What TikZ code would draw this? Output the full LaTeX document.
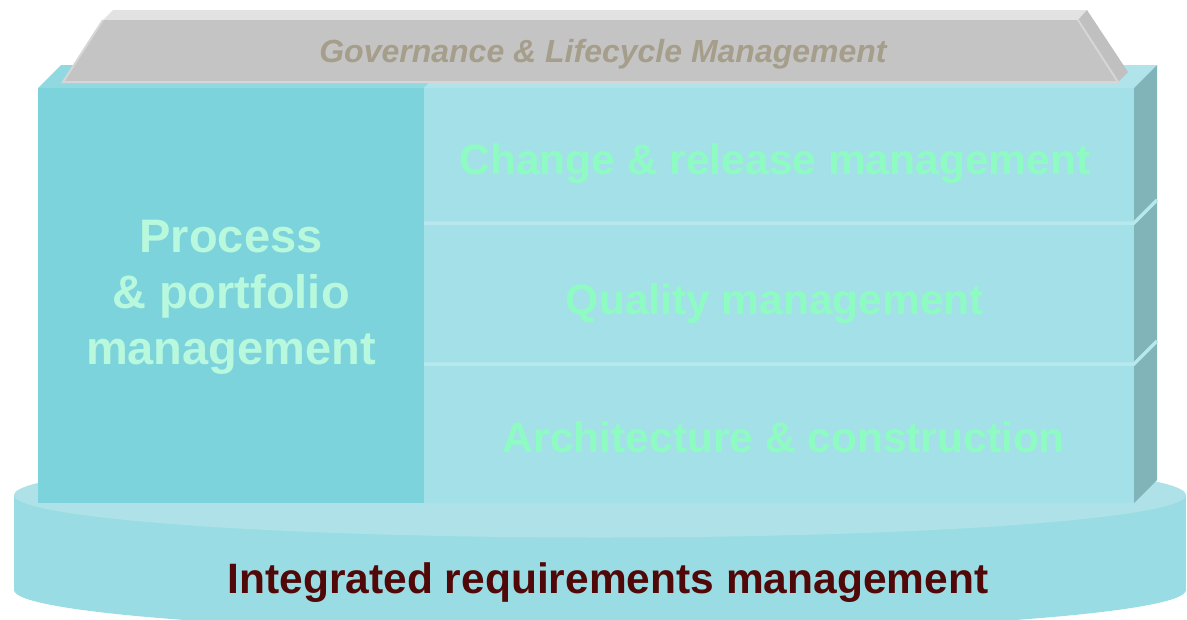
\documentclass[tikz,border=0pt]{standalone}
\usepackage{fontspec}
\setmainfont{Liberation Sans}
\usepackage{tikz}
\usetikzlibrary{calc}

\definecolor{platetop}{HTML}{AEE2E8}
\definecolor{platefront}{HTML}{9ADCE3}
\definecolor{procpanel}{HTML}{7DD3DC}
\definecolor{rowpanel}{HTML}{A4E0E8}
\definecolor{boxtopl}{HTML}{90D9E1}
\definecolor{boxtopr}{HTML}{B0E4EA}
\definecolor{boxside}{HTML}{80B4B8}
\definecolor{rowline}{HTML}{B6E8EE}
\definecolor{rooffront}{HTML}{C4C4C4}
\definecolor{roofside}{HTML}{C0C0C0}
\definecolor{rooftop}{HTML}{E2E2E2}
\definecolor{roofedge}{HTML}{D6D6D6}
\definecolor{govtext}{HTML}{A59E8A}
\definecolor{proctext}{HTML}{B8F8DC}
\definecolor{rowtext}{HTML}{8EFCC2}
\definecolor{basetext}{HTML}{500808}

\tikzset{
  rowlabel/.style={anchor=base,text=rowtext,font=\fontsize{42.5}{50}\selectfont\bfseries},
  divider/.style={rowline,line width=3.5pt}
}

\begin{document}
\begin{tikzpicture}[x=1pt,y=-1pt]

\useasboundingbox (0,0) rectangle (1187,619);

% base plate
\begin{scope}
  \clip (0,0) rectangle (1187,619);
  \fill[platefront] (600,590) ellipse [x radius=586, y radius=42.5];
  \fill[platefront] (14,495) rectangle (1186,590);
  \fill[platetop] (600,495) ellipse [x radius=586, y radius=42.5];
\end{scope}

% block
\fill[boxtopl] (38,88) -- (61,65) -- (447,65) -- (424,88) -- cycle;
\fill[boxtopr] (424,88) -- (447,65) -- (1157,65) -- (1134,88) -- cycle;
\fill[boxside] (1134,88) -- (1157,65) -- (1157,480) -- (1134,503) -- cycle;
\fill[procpanel] (38,88) rectangle (424,503);
\fill[rowpanel] (424,88) rectangle (1134,503);

\coordinate (d1l) at (424,223);
\coordinate (d1r) at (1134,223);
\coordinate (d1b) at (1157,200);
\coordinate (d2l) at (424,364);
\coordinate (d2r) at (1134,364);
\coordinate (d2b) at (1157,341);
\draw[divider] (d1l) -- (d1r) -- (d1b);
\draw[divider] (d2l) -- (d2r) -- (d2b);

% roof
\fill[rooftop] (103,20) -- (113,10) -- (1087,10) -- (1078,20) -- cycle;
\fill[roofside] (1078,20) -- (1087,10) -- (1128,72) -- (1118,82) -- cycle;
\fill[rooffront] (63,82) -- (103,20) -- (1078,20) -- (1118,82) -- cycle;
\draw[roofedge,line width=2pt] (103,20) -- (63,82) -- (1118,82) -- (1078,20);

\node[anchor=base,text=govtext,font=\fontsize{32}{38}\selectfont\bfseries\itshape] (gov) at (603,62) {Governance \& Lifecycle Management};

\node[align=center,text=proctext,font=\fontsize{47}{56}\selectfont\bfseries] (proc) at (231,297) {Process\\\& portfolio\\management};

\node[rowlabel] (change) at (775,174) {Change \& release management};
\node[rowlabel] (quality) at (775,314) {Quality management};
\node[rowlabel] (arch) at (784,452) {Architecture \& construction};

\node[anchor=base,text=basetext,font=\fontsize{42.5}{50}\selectfont\bfseries] (req) at (608,593) {Integrated requirements management};

\end{tikzpicture}
\end{document}
